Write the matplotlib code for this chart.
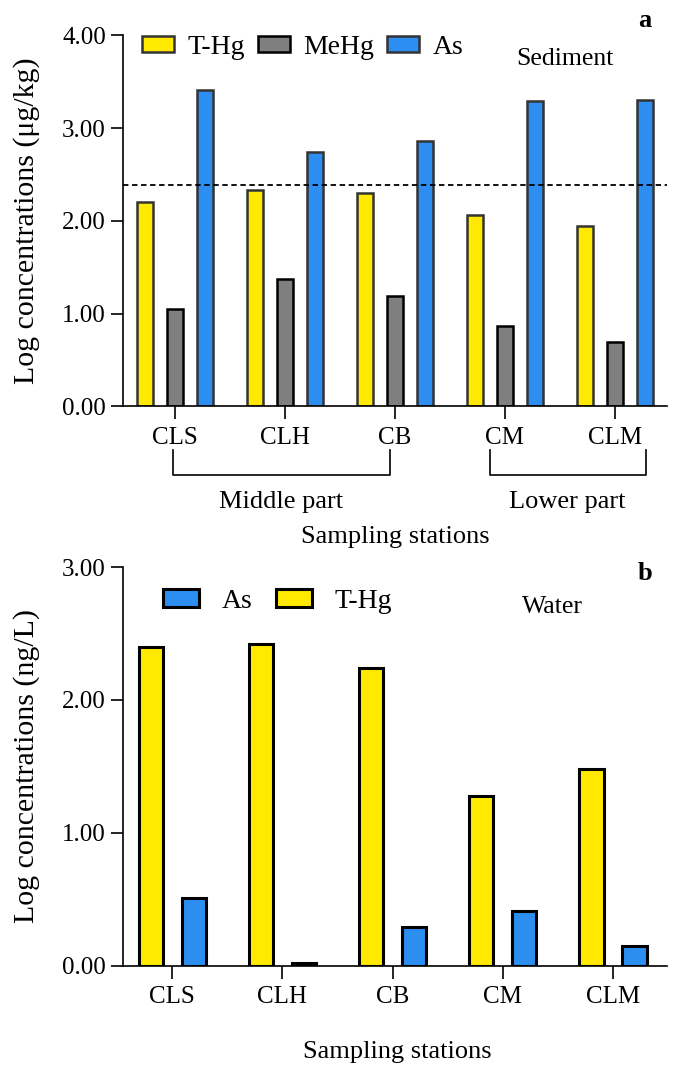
import numpy as np
import matplotlib
matplotlib.use("Agg")
import matplotlib.pyplot as plt
from matplotlib.patches import Patch

plt.rcParams['font.family'] = ['Liberation Serif', 'DejaVu Serif']

stations = ["CLS", "CLH", "CB", "CM", "CLM"]

# panel a - sediment (log ug/kg)
sed_thg = [2.20, 2.33, 2.30, 2.06, 1.94]
sed_mehg = [1.05, 1.37, 1.19, 0.87, 0.69]
sed_as = [3.41, 2.74, 2.86, 3.29, 3.30]
sed_guide = 2.39

# panel b - water (log ng/L)
wat_thg = [2.40, 2.42, 2.24, 1.28, 1.48]
wat_as = [0.505, 0.02, 0.29, 0.41, 0.15]

YEL = '#FFE900'
GRY = '#7F7F7F'
BLU = '#2B8EF0'

fig = plt.figure(figsize=(6.73, 10.71), dpi=100)
x = np.arange(len(stations))

# ---------- panel a
ax = fig.add_axes([0.183, 0.6205, 0.808, 0.3465])
w = 0.145
off = 0.273
ax.bar(x - off, sed_thg, w, color=YEL, edgecolor='#333333', linewidth=1.8)
ax.bar(x, sed_mehg, w, color=GRY, edgecolor='black', linewidth=1.8)
ax.bar(x + off, sed_as, w, color=BLU, edgecolor='#333333', linewidth=1.8)
ax.axhline(sed_guide, color='black', linestyle=(0, (3, 2)), linewidth=1.3)
ax.set_xlim(-0.473, 4.473)
ax.set_ylim(0, 4)
ax.set_yticks([0, 1, 2, 3, 4])
ax.set_yticklabels(["%.2f" % v for v in [0, 1, 2, 3, 4]])
ax.set_xticks(x)
ax.set_xticklabels(stations)
ax.set_ylabel("Log concentrations (\u03bcg/kg)", fontsize=21.5)
ax.yaxis.set_label_coords(-0.153, 0.5)

tr = ax.get_xaxis_transform()
for x0, x1 in [(-0.02, 1.955), (2.86, 4.28)]:
    ax.plot([x0, x0, x1, x1], [-0.117, -0.184, -0.184, -0.117], color='black',
            linewidth=1.2, transform=tr, clip_on=False)
ax.text((-0.02 + 1.955) / 2, -0.257, "Middle part", transform=tr, ha='center', va='center', fontsize=19)
ax.text((2.86 + 4.28) / 2, -0.257, "Lower part", transform=tr, ha='center', va='center', fontsize=19)
ax.text(2.0, -0.351, "Sampling stations", transform=tr, ha='center', va='center', fontsize=19)
ax.text(0.813, 0.937, "Sediment", transform=ax.transAxes, ha='center', va='center', fontsize=18.5)
ax.text(0.96, 1.04, "a", transform=ax.transAxes, ha='center', va='center', fontsize=19, fontweight='bold')

leg_a = [Patch(facecolor=YEL, edgecolor='#333333', linewidth=1.8, label='T-Hg'),
         Patch(facecolor=GRY, edgecolor='black', linewidth=1.8, label='MeHg'),
         Patch(facecolor=BLU, edgecolor='#333333', linewidth=1.8, label='As')]
fig.legend(handles=leg_a, loc='center left', bbox_to_anchor=(142 / 673, 1 - 47 / 1071),
           ncol=3, frameon=False, fontsize=20, borderpad=0, borderaxespad=0,
           handlelength=1.15, handleheight=0.5, handletextpad=0.5, columnspacing=0.45)

# ---------- panel b
bx = fig.add_axes([0.183, 0.0985, 0.808, 0.372])
wb = 0.22
offb = 0.195
bx.bar(x - offb, wat_thg, wb, color=YEL, edgecolor='black', linewidth=2.2)
bx.bar(x + offb, wat_as, wb, color=BLU, edgecolor='black', linewidth=2.2)
bx.set_xlim(-0.445, 4.49)
bx.set_ylim(0, 3)
bx.set_yticks([0, 1, 2, 3])
bx.set_yticklabels(["%.2f" % v for v in [0, 1, 2, 3]])
bx.set_xticks(x)
bx.set_xticklabels(stations)
bx.set_ylabel("Log concentrations (ng/L)", fontsize=21.5)
bx.yaxis.set_label_coords(-0.153, 0.5)
bx.text(0.79, 0.9, "Water", transform=bx.transAxes, ha='center', va='center', fontsize=18.5)
bx.text(0.96, 0.985, "b", transform=bx.transAxes, ha='center', va='center', fontsize=19, fontweight='bold')
fig.text(0.5 + 0.09, 1 - 1052 / 1071, "Sampling stations", ha='center', va='center', fontsize=19)

leg_b = [Patch(facecolor=BLU, edgecolor='black', linewidth=2.2, label='As'),
         Patch(facecolor=YEL, edgecolor='black', linewidth=2.2, label='T-Hg')]
fig.legend(handles=leg_b, loc='center left', bbox_to_anchor=(163 / 673, 1 - 601 / 1071),
           ncol=2, frameon=False, fontsize=20, borderpad=0, borderaxespad=0,
           handlelength=1.3, handleheight=0.6, handletextpad=0.8, columnspacing=0.85)

for a in (ax, bx):
    a.spines['top'].set_visible(False)
    a.spines['right'].set_visible(False)
    a.spines['left'].set_linewidth(1.2)
    a.spines['bottom'].set_linewidth(1.2)
    a.tick_params(axis='both', direction='out', length=9, width=1.2, labelsize=18)
    a.tick_params(axis='x', pad=6)

fig.savefig("out.png", dpi=100)
